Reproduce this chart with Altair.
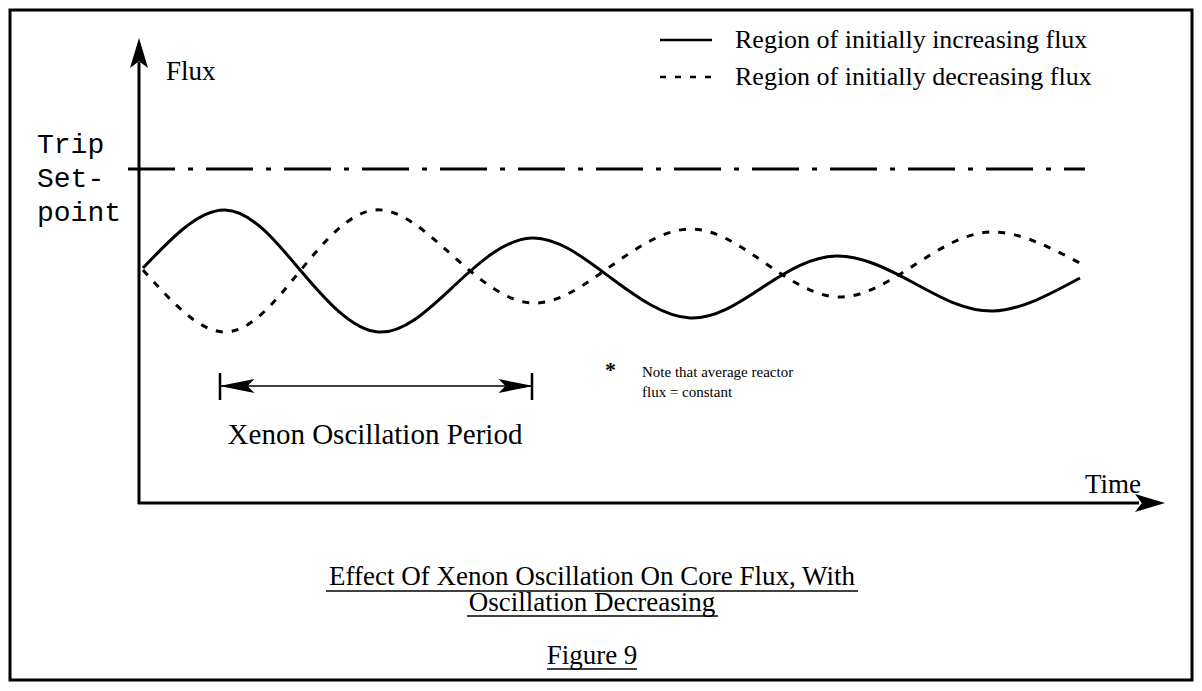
import altair as alt
import pandas as pd

# ---- values (time units from the flux axis, flux units above the time axis)
time_increasing = [4, 86, 162, 239, 316, 393, 472, 551, 624, 697, 775, 854, 941]
flux_increasing = [235, 293, 232, 171, 218, 265, 225, 185, 216, 247, 220, 192, 225]
time_decreasing = [4, 86, 161, 236, 314, 393, 472, 551, 626, 701, 777, 854, 941]
flux_decreasing = [233, 171, 232, 293, 247, 200, 237, 274, 240, 206, 239, 271, 240]

trip_setpoint = 334
trip_extent = [-11, 946]
period_extent = [81, 393]
period_level = 117

legend_labels = ["Region of initially increasing flux", "Region of initially decreasing flux"]
trip_label = "Trip\nSet-\npoint"
note_label = "Note that average reactor\nflux = constant"
title_label = "Effect Of Xenon Oscillation On Core Flux, With\nOscillation Decreasing"
figure_label = "Figure 9"

XS = alt.Scale(domain=[-131, 1055], nice=False, zero=False)
YS = alt.Scale(domain=[-179, 495], nice=False, zero=False)
SERIF = "Liberation Serif"
MONO = "Liberation Mono"


def X(field="t"):
    return alt.X(f"{field}:Q", scale=XS, axis=None)


def Y(field="f"):
    return alt.Y(f"{field}:Q", scale=YS, axis=None)


def X2(field="t2"):
    return alt.X2(f"{field}:Q")


def Y2(field="f2"):
    return alt.Y2(f"{field}:Q")


# curves
inc = pd.DataFrame({"t": time_increasing, "f": flux_increasing})
dec = pd.DataFrame({"t": time_decreasing, "f": flux_decreasing})
line_inc = alt.Chart(inc).mark_line(color="black", strokeWidth=3, interpolate="natural").encode(x=X(), y=Y())
line_dec = alt.Chart(dec).mark_line(color="black", strokeWidth=3, interpolate="natural",
                                    strokeDash=[7, 9]).encode(x=X(), y=Y())

# border
border = alt.Chart(pd.DataFrame({"t": [-129], "t2": [1053], "f": [-177], "f2": [493]})).mark_rect(
    filled=False, stroke="black", strokeWidth=3).encode(x=X(), x2=X2(), y=Y(), y2=Y2())

# axes
axes_df = pd.DataFrame({"t": [0, -1], "t2": [0, 1000], "f": [-1, 0], "f2": [441, 0]})
axes = alt.Chart(axes_df).mark_rule(color="black", strokeWidth=3).encode(x=X(), x2=X2(), y=Y(), y2=Y2())

up_arrow = alt.Chart(pd.DataFrame({"t": [0], "f": [450]})).mark_point(
    shape="M0,-1L0.6,1L0,0.55L-0.6,1Z", filled=True, size=900, color="black", opacity=1, strokeWidth=0
).encode(x=X(), y=Y())
right_arrow = alt.Chart(pd.DataFrame({"t": [1011], "f": [0]})).mark_point(
    shape="M1,0L-1,-0.6L-0.55,0L-1,0.6Z", filled=True, size=900, color="black", opacity=1, strokeWidth=0
).encode(x=X(), y=Y())

# trip setpoint
trip = alt.Chart(pd.DataFrame({"t": [trip_extent[0]], "t2": [trip_extent[1]], "f": [trip_setpoint]})).mark_rule(
    color="black", strokeWidth=3, strokeDash=[47, 13, 5, 13]).encode(x=X(), x2=X2(), y=Y())

# legend samples
leg_solid = alt.Chart(pd.DataFrame({"t": [521], "t2": [573], "f": [463]})).mark_rule(
    color="black", strokeWidth=2.5).encode(x=X(), x2=X2(), y=Y())
leg_dash = alt.Chart(pd.DataFrame({"t": [521], "t2": [573], "f": [426]})).mark_rule(
    color="black", strokeWidth=2.5, strokeDash=[6, 9]).encode(x=X(), x2=X2(), y=Y())

# period arrow
period_line = alt.Chart(pd.DataFrame({"t": [period_extent[0]], "t2": [period_extent[1]], "f": [period_level]})).mark_rule(
    color="black", strokeWidth=1.5).encode(x=X(), x2=X2(), y=Y())
period_bars = alt.Chart(pd.DataFrame({"t": period_extent, "f": [period_level - 14] * 2,
                                      "f2": [period_level + 13] * 2})).mark_rule(
    color="black", strokeWidth=2.5).encode(x=X(), y=Y(), y2=Y2())
left_head = alt.Chart(pd.DataFrame({"t": [period_extent[0] + 17], "f": [period_level]})).mark_point(
    shape="M-1,0L1,-0.4L0.6,0L1,0.4Z", filled=True, size=1225, color="black", opacity=1, strokeWidth=0
).encode(x=X(), y=Y())
right_head = alt.Chart(pd.DataFrame({"t": [period_extent[1] - 16], "f": [period_level]})).mark_point(
    shape="M1,0L-1,-0.4L-0.6,0L-1,0.4Z", filled=True, size=1225, color="black", opacity=1, strokeWidth=0
).encode(x=X(), y=Y())


# texts
def texts(rows, font, size, align="left", weight="normal", line_height=None):
    df = pd.DataFrame(rows, columns=["t", "f", "label"])
    kw = dict(font=font, fontSize=size, align=align, baseline="middle", color="black", fontWeight=weight)
    if line_height is not None:
        kw.update(lineBreak="\n", lineHeight=line_height)
    return alt.Chart(df).mark_text(**kw).encode(x=X(), y=Y(), text="label:N")


serif_big = texts([(27, 431, "Flux"), (946, 18, "Time")], SERIF, 27)
legend_text = texts([(596, 463, legend_labels[0]), (596, 426, legend_labels[1])], SERIF, 26)
mono_left = texts([(-102, 358, trip_label)], MONO, 28, line_height=34)
asterisk = texts([(466, 133, "*")], SERIF, 22, weight="bold")
note = texts([(503, 131, note_label)], SERIF, 15, line_height=20)
period_text = texts([(236, 68, "Xenon Oscillation Period")], SERIF, 29, align="center")
title_text = texts([(453, -74, title_label)], SERIF, 27, align="center", line_height=26)
figure_text = texts([(453, -153, figure_label)], SERIF, 27, align="center")

underline_df = pd.DataFrame({"t": [187, 328, 408], "t2": [719, 579, 498], "f": [-88, -113, -166]})
underlines = alt.Chart(underline_df).mark_rule(color="black", strokeWidth=1.5).encode(x=X(), x2=X2(), y=Y())

chart = alt.layer(
    border, axes, up_arrow, right_arrow, trip, line_dec, line_inc, leg_solid, leg_dash,
    period_line, period_bars, left_head, right_head,
    serif_big, legend_text, mono_left, asterisk, note, period_text, title_text, figure_text, underlines,
).properties(
    width=1186, height=674, padding=0, background="white",
    autosize=alt.AutoSizeParams(type="none"),
).configure_view(stroke=None)

chart.save("out.html", embed_options={"renderer": "svg", "actions": False})
